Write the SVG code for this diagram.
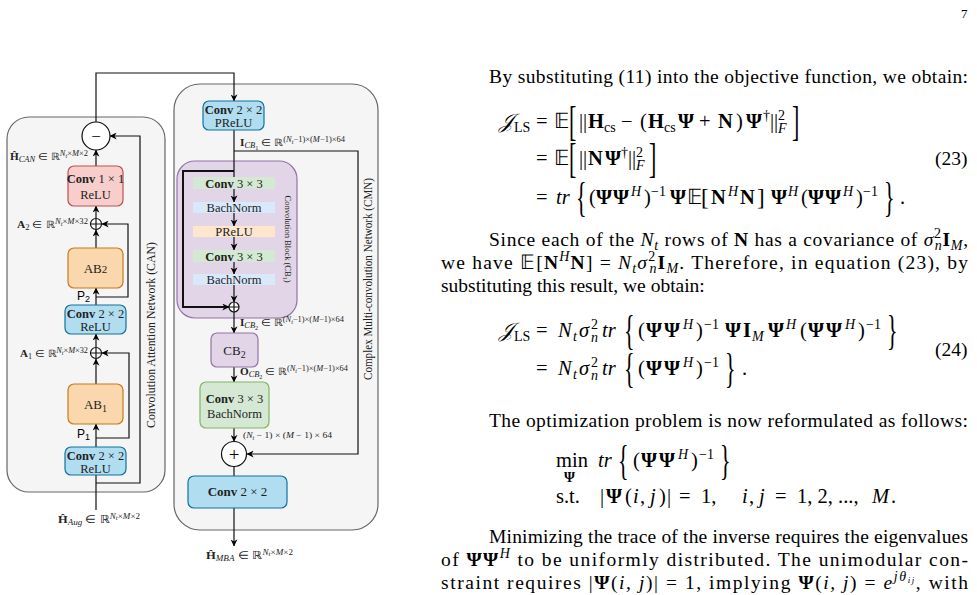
<svg xmlns="http://www.w3.org/2000/svg" width="977" height="595" viewBox="0 0 977 595">
<defs>
<marker id="ar" viewBox="0 0 10 10" refX="9.5" refY="5" markerWidth="7" markerHeight="7" markerUnits="userSpaceOnUse" orient="auto"><path d="M0,0 L10,5 L0,10 L3,5 z" fill="#000"/></marker>
<style>
.cont{fill:#f5f5f5;stroke:#666;stroke-width:1.2}
.red{fill:#f8cecc;stroke:#b85450;stroke-width:1.2}
.org{fill:#fad7ac;stroke:#c27c1a;stroke-width:1.2}
.blu{fill:#b1ddf0;stroke:#10739e;stroke-width:1.2}
.pur{fill:#e1d5e7;stroke:#9673a6;stroke-width:1.2}
.grn{fill:#d5e8d4;stroke:#82b366;stroke-width:1.2}
.sg{fill:#d5e8d4}.sb{fill:#dae8fc}.so{fill:#ffe6cc}
.ln{fill:none;stroke:#111;stroke-width:1.2}
.la{fill:none;stroke:#111;stroke-width:1.2;marker-end:url(#ar)}
.sum{fill:#fff;stroke:#111;stroke-width:1.2}
text{font-family:"Liberation Serif","Times New Roman",serif;fill:#222}
.bx{font-size:12.5px;text-anchor:middle}
.lb{font-size:10px}
.ls{font-size:7.5px}
.lss{font-size:5.5px}
.vl{font-size:11.5px;text-anchor:middle}
.p{font-size:19.5px;fill:#000}
.m{font-size:20.5px;fill:#000}
.sc{font-size:14px}
.b{font-weight:bold}
.i{font-style:italic}
.bd{font-size:22px;fill:#000}
.ss{font-family:"Liberation Sans",Arial,sans-serif}
</style>
</defs>

<!-- containers -->
<g id="can">
<rect x="7" y="117" width="158" height="375" rx="22" class="cont"/>
<text class="vl" transform="translate(155,335) rotate(-90)" textLength="186" lengthAdjust="spacingAndGlyphs">Convolution Attention Network (CAN)</text>
</g>
<g id="cmn">
<rect x="174" y="84" width="204" height="446" rx="26" class="cont"/>
<text class="vl" transform="translate(372,279) rotate(-90)" textLength="202" lengthAdjust="spacingAndGlyphs">Complex Multi-convolution Network (CMN)</text>
</g>
<g id="cb1">
<rect x="177" y="161" width="120" height="157" rx="18" class="pur"/>
<text transform="translate(285,239) rotate(90)" style="font-size:8.5px;text-anchor:middle">Convolution Block (CB<tspan style="font-size:6px" dy="2">1</tspan><tspan dy="-2">)</tspan></text>
</g>

<!-- connectors -->
<g id="connectors">
<path class="ln" d="M96,510 V475"/>
<path class="la" d="M96,447 V424"/>
<path class="la" d="M96,438 H129 V353 H102"/>
<path class="la" d="M96,384 V359"/>
<path class="la" d="M96,347.5 V334"/>
<path class="la" d="M96,305 V288"/>
<path class="la" d="M96,297 H128 V224 H102"/>
<path class="la" d="M96,248 V230"/>
<path class="la" d="M96,218.5 V206"/>
<path class="la" d="M96,166 V150"/>
<path class="la" d="M96,483 H140 V136 H110"/>
<path class="la" d="M96,122 V73 H234 V101"/>
<path class="ln" d="M234,130 V177"/>
<path class="la" d="M234,151 H358 V454 H247"/>
<path class="la" d="M234,171 H183 V307 H229" style="stroke-width:2"/>
<path class="la" d="M234,189 V202"/>
<path class="la" d="M234,213 V226"/>
<path class="la" d="M234,237 V250"/>
<path class="la" d="M234,262 V274"/>
<path class="la" d="M234,285 V302"/>
<path class="la" d="M234,312 V333"/>
<path class="la" d="M234,367 V382"/>
<path class="la" d="M234,428 V441.5"/>
<path class="ln" d="M234,466.5 V476"/>
<path class="la" d="M234,508 V546"/>
</g>

<!-- CAN nodes -->
<g id="minus">
<circle cx="96" cy="136" r="14" class="sum"/>
<text x="96" y="141.5" style="font-size:17px;text-anchor:middle;fill:#000">−</text>
</g>
<g id="conv1x1">
<rect x="68" y="166" width="55" height="40" rx="6" class="red"/>
<text class="bx" x="95.5" y="182.5"><tspan class="b">Conv</tspan> 1 × 1</text>
<text class="bx" x="95.5" y="199">ReLU</text>
</g>
<g id="add2">
<circle cx="96" cy="224" r="5.5" class="sum"/>
<path class="ln" d="M90.5,224 H101.5 M96,218.5 V229.5"/>
</g>
<g id="ab2">
<rect x="68" y="248" width="55" height="40" rx="6" class="org"/>
<text class="bx" x="95.5" y="272.5" style="font-size:13px">AB<tspan style="font-size:11px">2</tspan></text>
</g>
<g id="conv2x2a">
<rect x="65" y="305" width="61" height="29" rx="6" class="blu"/>
<text class="bx" x="95.5" y="317.5"><tspan class="b">Conv</tspan> 2 × 2</text>
<text class="bx" x="95.5" y="331">ReLU</text>
</g>
<g id="add1">
<circle cx="96" cy="353" r="5.5" class="sum"/>
<path class="ln" d="M90.5,353 H101.5 M96,347.5 V358.5"/>
</g>
<g id="ab1">
<rect x="68" y="384" width="55" height="40" rx="6" class="org"/>
<text class="bx" x="95.5" y="408.5" style="font-size:13px">AB<tspan style="font-size:10px" dy="3">1</tspan></text>
</g>
<g id="conv2x2b">
<rect x="65" y="447" width="61" height="28" rx="6" class="blu"/>
<text class="bx" x="95.5" y="459.5"><tspan class="b">Conv</tspan> 2 × 2</text>
<text class="bx" x="95.5" y="472.5">ReLU</text>
</g>

<!-- CAN labels -->
<g id="can-labels">
<text class="lb" x="10" y="160" textLength="78" lengthAdjust="spacingAndGlyphs"><tspan class="b">Ĥ</tspan><tspan class="ls i" dy="2">CAN</tspan><tspan dy="-2"> ∈ ℝ</tspan><tspan class="ls i" dy="-4">N</tspan><tspan class="lss i" dy="1.5">t</tspan><tspan class="ls" dy="-1.5">×</tspan><tspan class="ls i">M</tspan><tspan class="ls">×2</tspan></text>
<text class="lb" x="17" y="228" textLength="71" lengthAdjust="spacingAndGlyphs"><tspan class="b">A</tspan><tspan class="ls" dy="2">2</tspan><tspan dy="-2"> ∈ ℝ</tspan><tspan class="ls i" dy="-4">N</tspan><tspan class="lss i" dy="1.5">t</tspan><tspan class="ls" dy="-1.5">×</tspan><tspan class="ls i">M</tspan><tspan class="ls">×32</tspan></text>
<text class="lb" x="20" y="357" textLength="68" lengthAdjust="spacingAndGlyphs"><tspan class="b">A</tspan><tspan class="ls" dy="2">1</tspan><tspan dy="-2"> ∈ ℝ</tspan><tspan class="ls i" dy="-4">N</tspan><tspan class="lss i" dy="1.5">t</tspan><tspan class="ls" dy="-1.5">×</tspan><tspan class="ls i">M</tspan><tspan class="ls">×32</tspan></text>
<text class="ss" x="77" y="300" style="font-size:12px;fill:#000">P<tspan style="font-size:9px" dy="2">2</tspan></text>
<text class="ss" x="77" y="438" style="font-size:12px;fill:#000">P<tspan style="font-size:9px" dy="2">1</tspan></text>
<text x="58" y="523" style="font-size:11px" textLength="82" lengthAdjust="spacingAndGlyphs"><tspan class="b">Ĥ</tspan><tspan class="i" style="font-size:8px" dy="2">Aug</tspan><tspan dy="-2"> ∈ ℝ</tspan><tspan class="i" style="font-size:8px" dy="-4.5">N</tspan><tspan class="i" style="font-size:6px" dy="1.5">t</tspan><tspan style="font-size:8px" dy="-1.5">×</tspan><tspan class="i" style="font-size:8px">M</tspan><tspan style="font-size:8px">×2</tspan></text>
</g>

<!-- CMN nodes -->
<g id="conv2x2p">
<rect x="203" y="101" width="61" height="29" rx="6" class="blu"/>
<text class="bx" x="233.5" y="113.5"><tspan class="b">Conv</tspan> 2 × 2</text>
<text class="bx" x="233.5" y="127">PReLU</text>
</g>
<g id="cb1-conv-a">
<rect x="193" y="177" width="82" height="12" class="sg"/>
<text class="bx" x="234" y="187.5"><tspan class="b">Conv</tspan> 3 × 3</text>
</g>
<g id="cb1-bn-a">
<rect x="193" y="202" width="82" height="11" class="sb"/>
<text class="bx" x="234" y="212">BachNorm</text>
</g>
<g id="cb1-prelu">
<rect x="193" y="226" width="82" height="11" class="so"/>
<text class="bx" x="234" y="236">PReLU</text>
</g>
<g id="cb1-conv-b">
<rect x="193" y="250" width="82" height="12" class="sg"/>
<text class="bx" x="234" y="260.5"><tspan class="b">Conv</tspan> 3 × 3</text>
</g>
<g id="cb1-bn-b">
<rect x="193" y="274" width="82" height="11" class="sb"/>
<text class="bx" x="234" y="284">BachNorm</text>
</g>
<g id="cb1-add">
<circle cx="234" cy="307" r="5" class="sum"/>
<path class="ln" d="M229,307 H239 M234,302 V312"/>
</g>
<g id="cb2">
<rect x="211" y="333" width="47" height="34" rx="6" class="pur"/>
<text class="bx" x="234.5" y="354.5" style="font-size:13px">CB<tspan style="font-size:10px" dy="3">2</tspan></text>
</g>
<g id="conv3x3">
<rect x="200" y="382" width="69" height="46" rx="6" class="grn"/>
<text class="bx" x="234.5" y="402.5"><tspan class="b">Conv</tspan> 3 × 3</text>
<text class="bx" x="234.5" y="418">BachNorm</text>
</g>
<g id="add-cmn">
<circle cx="234" cy="454" r="12.5" class="sum"/>
<text x="234" y="460.5" style="font-size:19px;text-anchor:middle;fill:#000">+</text>
</g>
<g id="conv2x2c">
<rect x="188" y="476" width="99" height="32" rx="6" class="blu"/>
<text class="bx" x="237.5" y="496" style="font-size:13px"><tspan class="b">Conv</tspan> 2 × 2</text>
</g>

<!-- CMN labels -->
<g id="cmn-labels">
<text class="lb" x="240" y="146" textLength="105" lengthAdjust="spacingAndGlyphs"><tspan class="b">I</tspan><tspan class="ls i" dy="2">CB</tspan><tspan class="lss" dy="1.5">1</tspan><tspan dy="-3.5"> ∈ ℝ</tspan><tspan class="ls" dy="-4">(</tspan><tspan class="ls i">N</tspan><tspan class="lss i" dy="1.5">t</tspan><tspan class="ls" dy="-1.5">−1)×(</tspan><tspan class="ls i">M</tspan><tspan class="ls">−1)×64</tspan></text>
<text class="lb" x="240" y="326" textLength="104" lengthAdjust="spacingAndGlyphs"><tspan class="b">I</tspan><tspan class="ls i" dy="2">CB</tspan><tspan class="lss" dy="1.5">2</tspan><tspan dy="-3.5"> ∈ ℝ</tspan><tspan class="ls" dy="-4">(</tspan><tspan class="ls i">N</tspan><tspan class="lss i" dy="1.5">t</tspan><tspan class="ls" dy="-1.5">−1)×(</tspan><tspan class="ls i">M</tspan><tspan class="ls">−1)×64</tspan></text>
<text class="lb" x="240" y="375" textLength="108" lengthAdjust="spacingAndGlyphs"><tspan class="b">O</tspan><tspan class="ls i" dy="2">CB</tspan><tspan class="lss" dy="1.5">2</tspan><tspan dy="-3.5"> ∈ ℝ</tspan><tspan class="ls" dy="-4">(</tspan><tspan class="ls i">N</tspan><tspan class="lss i" dy="1.5">t</tspan><tspan class="ls" dy="-1.5">−1)×(</tspan><tspan class="ls i">M</tspan><tspan class="ls">−1)×64</tspan></text>
<text class="lb" x="243" y="438" textLength="89" lengthAdjust="spacingAndGlyphs" style="font-size:8.5px">(<tspan class="i">N</tspan><tspan class="lss i" dy="1.5">t</tspan><tspan dy="-1.5"> − 1) × (</tspan><tspan class="i">M</tspan> − 1) × 64</text>
<text x="206" y="559" style="font-size:11px" textLength="87" lengthAdjust="spacingAndGlyphs"><tspan class="b">Ĥ</tspan><tspan class="i" style="font-size:8px" dy="2">MBA</tspan><tspan dy="-2"> ∈ ℝ</tspan><tspan class="i" style="font-size:8px" dy="-4.5">N</tspan><tspan class="i" style="font-size:6px" dy="1.5">t</tspan><tspan style="font-size:8px" dy="-1.5">×</tspan><tspan class="i" style="font-size:8px">M</tspan><tspan style="font-size:8px">×2</tspan></text>
</g>

<!-- right-hand text -->
<text x="961" y="18" style="font-size:13px;fill:#000">7</text>

<text class="p" x="489" y="83" textLength="479" lengthAdjust="spacing">By substituting (11) into the objective function, we obtain:</text>

<!-- eq 23 line 1 -->
<text class="m"><tspan x="499" y="128" class="i">𝒥</tspan><tspan x="514" y="132" class="sc">LS</tspan><tspan x="536" y="128">=</tspan><tspan x="554" y="128">𝔼</tspan><tspan x="579" y="128">||</tspan><tspan x="588" y="128" class="b">H</tspan><tspan x="604" y="132" class="sc">cs</tspan><tspan x="621" y="128">−</tspan><tspan x="640" y="128">(</tspan><tspan x="648" y="128" class="b">H</tspan><tspan x="664" y="132" class="sc">cs</tspan><tspan x="678" y="128" class="b">Ψ</tspan><tspan x="699" y="128">+</tspan><tspan x="718" y="128" class="b">N</tspan><tspan x="736" y="128">)</tspan><tspan x="746" y="128" class="b">Ψ</tspan><tspan x="763" y="120" class="sc">†</tspan><tspan x="770" y="128">||</tspan><tspan x="778" y="120" class="sc">2</tspan><tspan x="778" y="133" class="sc i">F</tspan></text>
<text class="bd" transform="translate(569,134.8) scale(1,1.9)">[</text>
<text class="bd" transform="translate(792,134.8) scale(1,1.9)">]</text>

<!-- eq 23 line 2 -->
<text class="m"><tspan x="536" y="165">=</tspan><tspan x="554" y="165">𝔼</tspan><tspan x="579" y="165">||</tspan><tspan x="588" y="165" class="b">N</tspan><tspan x="605" y="165" class="b">Ψ</tspan><tspan x="621" y="157" class="sc">†</tspan><tspan x="628" y="165">||</tspan><tspan x="636" y="157" class="sc">2</tspan><tspan x="636" y="170" class="sc i">F</tspan></text>
<text class="bd" transform="translate(569,171.8) scale(1,1.9)">[</text>
<text class="bd" transform="translate(649,171.8) scale(1,1.9)">]</text>
<text class="p" x="935" y="165">(23)</text>

<!-- eq 23 line 3 -->
<text class="m"><tspan x="536" y="204">=</tspan><tspan x="556" y="204" class="i">tr</tspan><tspan x="589" y="204">(</tspan><tspan x="596 613" y="204" class="b">ΨΨ</tspan><tspan x="631" y="196" class="sc i">H</tspan><tspan x="644" y="204">)</tspan><tspan x="651" y="196" class="sc">−1</tspan><tspan x="670" y="204" class="b">Ψ</tspan><tspan x="687" y="204">𝔼</tspan><tspan x="701" y="205" style="font-size:23px">[</tspan><tspan x="711" y="204" class="b">N</tspan><tspan x="728" y="196" class="sc i">H</tspan><tspan x="740" y="204" class="b">N</tspan><tspan x="757" y="205" style="font-size:23px">]</tspan><tspan x="771" y="204" class="b">Ψ</tspan><tspan x="788" y="196" class="sc i">H</tspan><tspan x="801" y="204">(</tspan><tspan x="808 825" y="204" class="b">ΨΨ</tspan><tspan x="843" y="196" class="sc i">H</tspan><tspan x="856" y="204">)</tspan><tspan x="863" y="196" class="sc">−1</tspan><tspan x="900" y="204">.</tspan></text>
<text class="bd" transform="translate(576,210.8) scale(1,1.9)">{</text>
<text class="bd" transform="translate(884,210.8) scale(1,1.9)">}</text>

<!-- paragraph -->
<text class="p" x="489" y="246" textLength="479" lengthAdjust="spacing">Since each of the <tspan class="i">N</tspan><tspan class="sc i" dy="4">t</tspan><tspan dy="-4"> rows of </tspan><tspan class="b">N</tspan> has a covariance of <tspan class="i">σ</tspan><tspan class="sc" dy="-8">2</tspan><tspan class="sc i" dx="-7" dy="12">n</tspan><tspan class="b" dy="-4">I</tspan><tspan class="sc i" dy="4">M</tspan><tspan dy="-4">,</tspan></text>
<text class="p" x="441" y="269" textLength="527" lengthAdjust="spacing">we have 𝔼[<tspan class="b">N</tspan><tspan class="sc i" dy="-8">H</tspan><tspan class="b" dy="8">N</tspan>] = <tspan class="i">N</tspan><tspan class="sc i" dy="4">t</tspan><tspan class="i" dy="-4">σ</tspan><tspan class="sc" dy="-8">2</tspan><tspan class="sc i" dx="-7" dy="12">n</tspan><tspan class="b" dy="-4">I</tspan><tspan class="sc i" dy="4">M</tspan><tspan dy="-4">. Therefore, in equation (23), by</tspan></text>
<text class="p" x="441" y="292">substituting this result, we obtain:</text>

<!-- eq 24 line 1 -->
<text class="m"><tspan x="499" y="337" class="i">𝒥</tspan><tspan x="514" y="341" class="sc">LS</tspan><tspan x="536" y="337">=</tspan><tspan x="558" y="337" class="i">N</tspan><tspan x="573" y="341" class="sc i">t</tspan><tspan x="579" y="337" class="i">σ</tspan><tspan x="591" y="329" class="sc">2</tspan><tspan x="591" y="342" class="sc i">n</tspan><tspan x="602" y="337" class="i">tr</tspan><tspan x="638" y="337">(</tspan><tspan x="646 664" y="337" class="b">ΨΨ</tspan><tspan x="683" y="329" class="sc i">H</tspan><tspan x="696" y="337">)</tspan><tspan x="704" y="329" class="sc">−1</tspan><tspan x="725" y="337" class="b">Ψ</tspan><tspan x="743" y="337" class="b">I</tspan><tspan x="752" y="341" class="sc i">M</tspan><tspan x="768" y="337" class="b">Ψ</tspan><tspan x="786" y="329" class="sc i">H</tspan><tspan x="800" y="337">(</tspan><tspan x="808 826" y="337" class="b">ΨΨ</tspan><tspan x="845" y="329" class="sc i">H</tspan><tspan x="858" y="337">)</tspan><tspan x="866" y="329" class="sc">−1</tspan></text>
<text class="bd" transform="translate(624,343.8) scale(1,1.9)">{</text>
<text class="bd" transform="translate(887,343.8) scale(1,1.9)">}</text>
<text class="p" x="935" y="356">(24)</text>

<!-- eq 24 line 2 -->
<text class="m"><tspan x="536" y="375">=</tspan><tspan x="558" y="375" class="i">N</tspan><tspan x="573" y="379" class="sc i">t</tspan><tspan x="579" y="375" class="i">σ</tspan><tspan x="591" y="367" class="sc">2</tspan><tspan x="591" y="380" class="sc i">n</tspan><tspan x="602" y="375" class="i">tr</tspan><tspan x="638" y="375">(</tspan><tspan x="646 664" y="375" class="b">ΨΨ</tspan><tspan x="683" y="367" class="sc i">H</tspan><tspan x="696" y="375">)</tspan><tspan x="704" y="367" class="sc">−1</tspan><tspan x="742" y="375">.</tspan></text>
<text class="bd" transform="translate(624,381.8) scale(1,1.9)">{</text>
<text class="bd" transform="translate(725,381.8) scale(1,1.9)">}</text>

<text class="p" x="489" y="427" textLength="479" lengthAdjust="spacing">The optimization problem is now reformulated as follows:</text>

<!-- optimization -->
<text class="m"><tspan x="556" y="467">min</tspan><tspan x="564" y="482" class="sc b">Ψ</tspan><tspan x="598" y="467" class="i">tr</tspan><tspan x="633" y="467">(</tspan><tspan x="641 659" y="467" class="b">ΨΨ</tspan><tspan x="678" y="459" class="sc i">H</tspan><tspan x="691" y="467">)</tspan><tspan x="699" y="459" class="sc">−1</tspan></text>
<text class="bd" transform="translate(618,473.8) scale(1,1.9)">{</text>
<text class="bd" transform="translate(720,473.8) scale(1,1.9)">}</text>
<text class="m"><tspan x="556" y="503">s.t.</tspan><tspan x="600" y="503">|</tspan><tspan x="606" y="503" class="b">Ψ</tspan><tspan x="625" y="503">(</tspan><tspan x="633" y="503" class="i">i</tspan><tspan x="640" y="503">,</tspan><tspan x="650" y="503" class="i">j</tspan><tspan x="659" y="503">)</tspan><tspan x="667" y="503">|</tspan><tspan x="679" y="503">=</tspan><tspan x="701" y="503">1,</tspan><tspan x="742" y="503" class="i">i</tspan><tspan x="749" y="503">,</tspan><tspan x="759" y="503" class="i">j</tspan><tspan x="775" y="503">=</tspan><tspan x="797" y="503">1, 2, ..., </tspan><tspan x="872" y="503" class="i">M</tspan><tspan x="891" y="503">.</tspan></text>

<text class="p" x="489" y="543" textLength="479" lengthAdjust="spacing">Minimizing the trace of the inverse requires the eigenvalues</text>
<text class="p" x="441" y="566" textLength="527" lengthAdjust="spacing">of <tspan class="b">ΨΨ</tspan><tspan class="sc i" dy="-8">H</tspan><tspan dy="8"> to be uniformly distributed. The unimodular con-</tspan></text>
<text class="p" x="441" y="589" textLength="527" lengthAdjust="spacing">straint requires |<tspan class="b">Ψ</tspan>(<tspan class="i">i, j</tspan>)| = 1, implying <tspan class="b">Ψ</tspan>(<tspan class="i">i, j</tspan>) = <tspan class="i">e</tspan><tspan class="sc i" dy="-8">jθ</tspan><tspan class="i" style="font-size:9px" dy="2">ij</tspan><tspan dy="6">, with</tspan></text>
</svg>
